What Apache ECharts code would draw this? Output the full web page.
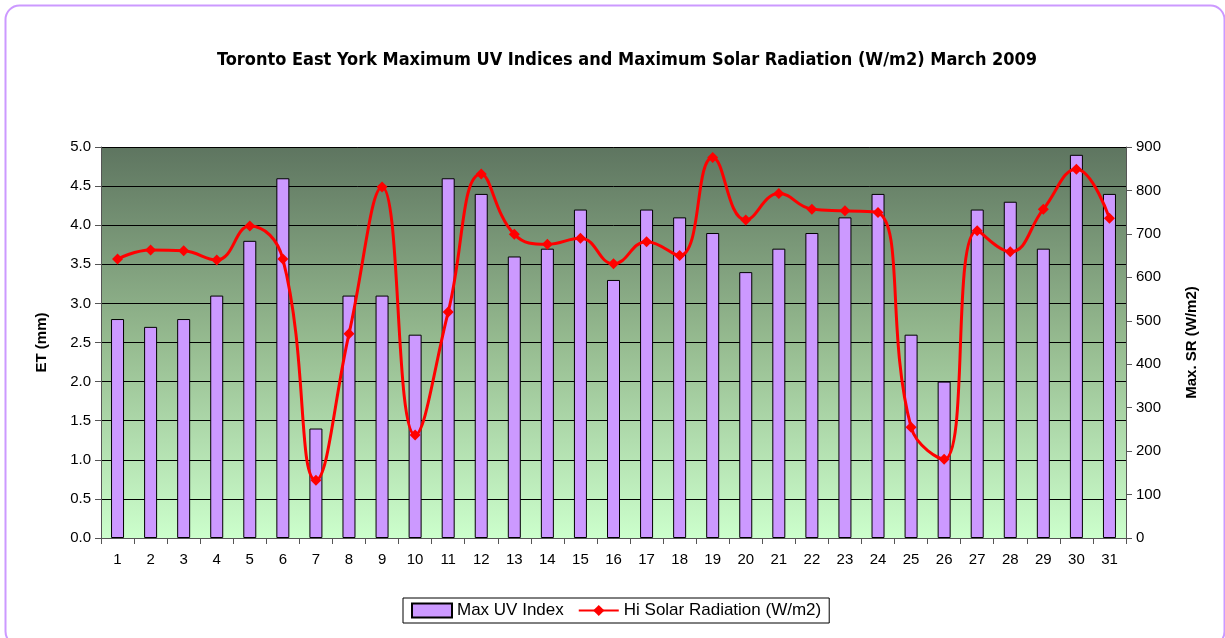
<!DOCTYPE html>
<html><head><meta charset="utf-8">
<script src="https://cdn.jsdelivr.net/npm/echarts@6/dist/echarts.min.js"></script>
<style>html,body{margin:0;padding:0;background:#fff}#c{width:1225px;height:638px}</style>
</head><body><div id="c"></div>
<script>
const days = ['1','2','3','4','5','6','7','8','9','10','11','12','13','14','15','16','17','18','19','20','21','22','23','24','25','26','27','28','29','30','31'];
const maxUV = [2.8,2.7,2.8,3.1,3.8,4.6,1.4,3.1,3.1,2.6,4.6,4.4,3.6,3.7,4.2,3.3,4.2,4.1,3.9,3.4,3.7,3.9,4.1,4.4,2.6,2.0,4.2,4.3,3.7,4.9,4.4];
const hiSolar = [642,663,661,640,718,642,133,470,808,237,520,838,699,676,690,631,682,650,876,732,793,757,753,749,255,181,707,659,757,849,736];

const chart = echarts.init(document.getElementById('c'));
const axisFont = {fontFamily:'Liberation Sans, Arial, sans-serif', fontSize:15, color:'#000'};
chart.setOption({
  animation:false,
  backgroundColor:'#fff',
  graphic:[{type:'rect',left:3,top:3,shape:{width:1219,height:640,r:14},style:{fill:'none',stroke:'#cc99ff',lineWidth:2},silent:true}],
  title:{text:'Toronto East York Maximum UV Indices and Maximum Solar Radiation (W/m2) March 2009',left:212,top:46,
    textStyle:{fontFamily:'DejaVu Sans Condensed, DejaVu Sans, sans-serif',fontWeight:'bold',fontSize:18,color:'#000'}},
  legend:{bottom:15,left:403,borderColor:'#000',borderWidth:1,padding:[4,8],itemGap:14,itemWidth:40,itemHeight:14,
    textStyle:{fontFamily:'Liberation Sans, Arial, sans-serif',fontSize:17,color:'#000'},
    data:[{name:'Max UV Index',icon:'rect'},{name:'Hi Solar Radiation (W/m2)'}]},
  grid:{left:101,right:99,top:147,bottom:100,
    show:true,borderWidth:0,
    backgroundColor:new echarts.graphic.LinearGradient(0,0,0,1,[{offset:0,color:'#5e7560'},{offset:0.5,color:'#96bb90'},{offset:1,color:'#ccffcc'}])},
  xAxis:{type:'category',data:days,
    axisLine:{lineStyle:{color:'#555',width:1}},
    axisTick:{show:true,alignWithLabel:false,length:6,lineStyle:{color:'#555'}},
    axisLabel:Object.assign({margin:14},axisFont)},
  yAxis:[
    {type:'value',min:0,max:5,interval:0.5,name:'ET (mm)',nameLocation:'middle',nameGap:52,
     nameTextStyle:{fontFamily:'Liberation Sans, Arial, sans-serif',fontWeight:'bold',fontSize:15,color:'#000'},
     axisLine:{show:true,lineStyle:{color:'#555'}},axisTick:{show:true,length:6,lineStyle:{color:'#555'}},
     axisLabel:Object.assign({margin:10,formatter:v=>v.toFixed(1)},axisFont),
     splitLine:{show:true,lineStyle:{color:'#000',width:1}}},
    {type:'value',min:0,max:900,interval:100,name:'Max. SR (W/m2)',nameLocation:'middle',nameGap:58,nameRotate:90,
     nameTextStyle:{fontFamily:'Liberation Sans, Arial, sans-serif',fontWeight:'bold',fontSize:15,color:'#000'},
     axisLine:{show:true,lineStyle:{color:'#555'}},axisTick:{show:true,length:6,lineStyle:{color:'#555'}},
     axisLabel:Object.assign({margin:10},axisFont),
     splitLine:{show:false}}
  ],
  series:[
    {name:'Max UV Index',type:'bar',data:maxUV,barWidth:13,
     itemStyle:{color:'#cc99ff',borderColor:'#000',borderWidth:1}},
    {name:'Hi Solar Radiation (W/m2)',type:'line',yAxisIndex:1,data:hiSolar,smooth:0.45,
     symbol:'diamond',symbolSize:11,
     lineStyle:{color:'#ff0000',width:3},itemStyle:{color:'#ff0000'}}
  ]
});
</script></body></html>
